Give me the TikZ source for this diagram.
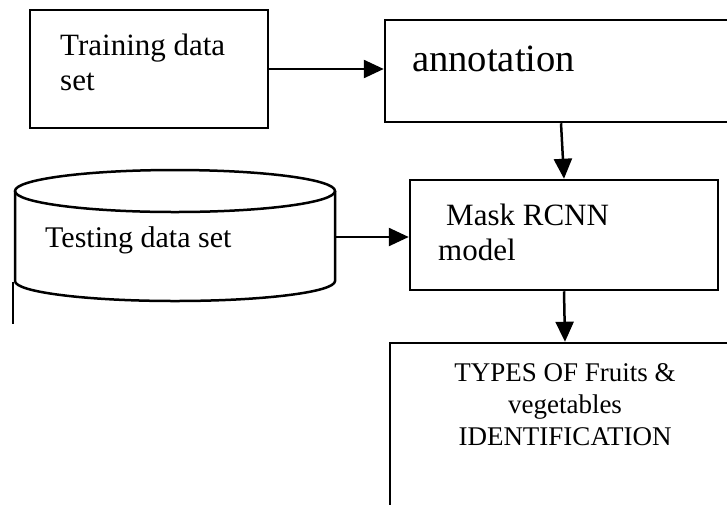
\documentclass[tikz,border=0pt]{standalone}
\usepackage{fontspec}
\setmainfont{Liberation Serif}
\usetikzlibrary{arrows.meta}

\begin{document}
\begin{tikzpicture}[x=1pt,y=-1pt,
    box/.style={draw, line width=2.5pt, inner sep=0pt},
    lbl/.style={inner sep=0pt, align=left},
    arr/.style={line width=2.5pt, -{Triangle[length=20pt,width=18pt]}}]
    \useasboundingbox (0,0) rectangle (727,504);
    \clip (0,0) rectangle (727,504);

    % Training data and annotation
    \node[box, minimum width=238pt, minimum height=118pt] (train) at (149,69) {};
    \node[lbl, anchor=north west, font=\fontsize{31}{35}\selectfont] (trainTxt) at (60,34) {Training data\\set};

    \node[box, minimum width=352pt, minimum height=102pt] (annot) at (561,71) {};
    \node[lbl, anchor=base west, font=\fontsize{38.6}{44}\selectfont] (annotTxt) at (412,71) {annotation};

    % Testing data store
    \draw[line width=2.5pt] (175,191) ellipse [x radius=160, y radius=21];
    \draw[line width=2.5pt] (15,191) -- (15,281) arc[start angle=180, end angle=0, x radius=160, y radius=20] -- (335,191);
    \coordinate (testE) at (335,237);
    \node[lbl, anchor=base west, font=\fontsize{30}{34}\selectfont] (testTxt) at (45,247) {Testing data set};
    \draw[line width=2pt] (13,282) -- (13,324);

    % Model
    \node[box, minimum width=308pt, minimum height=110pt] (mask) at (564,235) {};
    \node[lbl, anchor=north west, font=\fontsize{31}{35}\selectfont] (maskTxt) at (438,204) {\hspace{8pt}Mask RCNN\\model};

    % Output
    \node[box, minimum width=350pt, minimum height=180pt] (types) at (565,433) {};
    \node[lbl, align=center, anchor=north, font=\fontsize{27}{32}\selectfont] (typesTxt) at (565,363.5) {TYPES OF Fruits \&\\vegetables\\IDENTIFICATION};

    % Arrows
    \draw[arr] (train.east) -- (train.east -| annot.west);
    \draw[arr] (annot.south) -- (mask.north);
    \draw[arr] (testE) -- (testE -| mask.west);
    \draw[arr] (mask.south) -- (types.north);
\end{tikzpicture}
\end{document}
